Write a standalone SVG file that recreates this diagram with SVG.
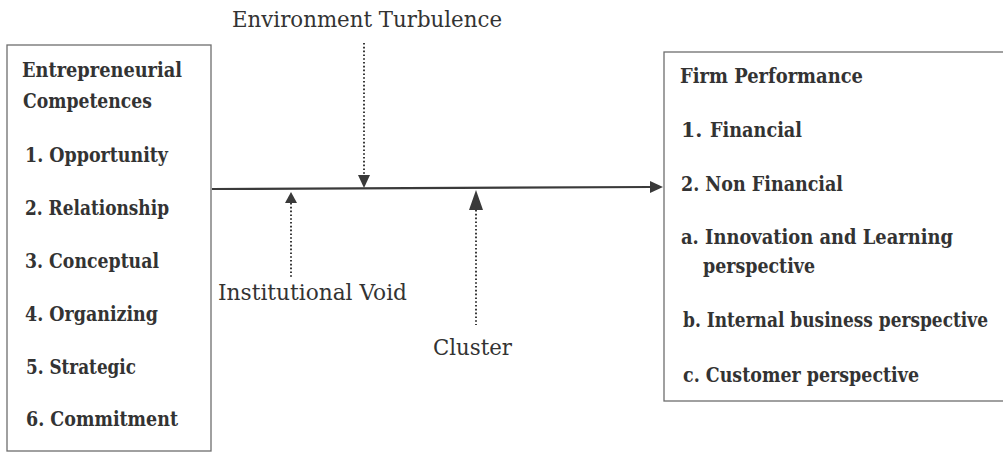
<svg xmlns="http://www.w3.org/2000/svg" width="1003" height="452" viewBox="0 0 1003 452">
<style>
.box{fill:none;stroke:#6e6e6e;stroke-width:1.3}
.b{font-family:"DejaVu Serif","Liberation Serif",serif;font-weight:bold;font-size:20.5px;fill:#333}
.r{font-family:"DejaVu Serif","Liberation Serif",serif;font-size:23px;fill:#333}
.main{stroke:#3a3a3a;stroke-width:2.2;fill:none}
.dot{stroke:#3a3a3a;stroke-width:2;stroke-dasharray:1.6 2.2;fill:none}
.head{fill:#3a3a3a}
</style>
<rect width="1003" height="452" fill="#ffffff"/>
<g id="competences">
<rect class="box" x="7" y="45" width="204" height="406"/>
<text class="b" x="22" y="77" textLength="160" lengthAdjust="spacingAndGlyphs">Entrepreneurial</text>
<text class="b" x="23" y="108" textLength="129" lengthAdjust="spacingAndGlyphs">Competences</text>
<text class="b" x="25" y="162" textLength="143" lengthAdjust="spacingAndGlyphs">1. Opportunity</text>
<text class="b" x="25" y="215" textLength="144" lengthAdjust="spacingAndGlyphs">2. Relationship</text>
<text class="b" x="25" y="268" textLength="134" lengthAdjust="spacingAndGlyphs">3. Conceptual</text>
<text class="b" x="25" y="321" textLength="133" lengthAdjust="spacingAndGlyphs">4. Organizing</text>
<text class="b" x="26" y="374" textLength="110" lengthAdjust="spacingAndGlyphs">5. Strategic</text>
<text class="b" x="26" y="426" textLength="152" lengthAdjust="spacingAndGlyphs">6. Commitment</text>
</g>
<g id="performance">
<rect class="box" x="664" y="52" width="345" height="349"/>
<text class="b" x="680" y="83" textLength="183" lengthAdjust="spacingAndGlyphs">Firm Performance</text>
<text class="b" x="681" y="137">1.<tspan x="710" textLength="92" lengthAdjust="spacingAndGlyphs">Financial</tspan></text>
<text class="b" x="681" y="191" textLength="162" lengthAdjust="spacingAndGlyphs">2. Non Financial</text>
<text class="b" x="681" y="244" textLength="272" lengthAdjust="spacingAndGlyphs">a. Innovation and Learning</text>
<text class="b" x="703" y="273" textLength="112" lengthAdjust="spacingAndGlyphs">perspective</text>
<text class="b" x="683" y="327" textLength="305" lengthAdjust="spacingAndGlyphs">b. Internal business perspective</text>
<text class="b" x="683" y="382" textLength="236" lengthAdjust="spacingAndGlyphs">c. Customer perspective</text>
</g>
<g id="environment">
<text class="r" x="232" y="27" textLength="270" lengthAdjust="spacingAndGlyphs">Environment Turbulence</text>
</g>
<g id="institutional">
<text class="r" x="218" y="300" textLength="189" lengthAdjust="spacingAndGlyphs">Institutional Void</text>
</g>
<g id="cluster">
<text class="r" x="433" y="355" textLength="79" lengthAdjust="spacingAndGlyphs">Cluster</text>
</g>
<g id="connectors">
<line class="main" x1="212" y1="189" x2="652" y2="187"/>
<polygon class="head" points="663,187 650,181 650,193"/>
<line class="dot" x1="364" y1="43" x2="364" y2="176"/>
<polygon class="head" points="364,188 358,175 370,175"/>
<line class="dot" x1="291" y1="203" x2="291" y2="277"/>
<polygon class="head" points="291,192 285,203 297,203"/>
<line class="dot" x1="476" y1="210" x2="476" y2="325"/>
<polygon class="head" points="476,190 469,210 483,210"/>
</g>
</svg>
